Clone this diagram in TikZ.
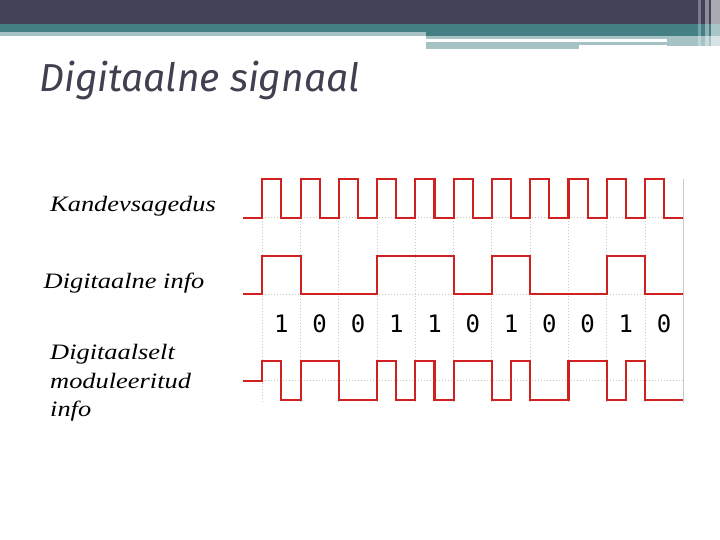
\documentclass[tikz,border=0pt]{standalone}
\usepackage{fontspec}
\newfontfamily\titlefont{Fira Sans}
\newfontfamily\labfont[FakeStretch=1.2]{Liberation Serif}
\newfontfamily\digfont{DejaVu Sans Mono}
\definecolor{bardark}{RGB}{66,66,88}
\definecolor{barteal}{RGB}{67,127,131}
\definecolor{barlight}{RGB}{167,194,197}
\definecolor{sigred}{RGB}{208,32,32}
\definecolor{titlegrey}{RGB}{64,64,80}
\definecolor{gridgrey}{RGB}{200,200,200}
\tikzset{
  sig/.style={draw=sigred, line width=2.1pt, line join=miter},
  gridline/.style={draw=gridgrey, line width=0.9pt, dash pattern=on 1pt off 2pt},
  labeltext/.style={inner sep=0pt, anchor=base west, font=\labfont\itshape\fontsize{22}{26}\selectfont},
  digit/.style={inner sep=0pt, anchor=base, font=\digfont\fontsize{24}{28}\selectfont},
}
\begin{document}
\begin{tikzpicture}[x=1pt,y=-1pt]
\useasboundingbox (0,0) rectangle (720,540);
\fill[white] (0,0) rectangle (720,540);
% top bar
\fill[bardark] (0,0) rectangle (720,24);
\fill[barteal] (0,24) rectangle (720,32);
\fill[barlight] (0,32) rectangle (426,36);
\fill[barteal] (426,32) rectangle (720,36);
\fill[barlight] (426,36) rectangle (667,39);
\fill[barlight] (426,42) rectangle (579,49);
\fill[barlight] (579,42) rectangle (667,45);
\fill[barlight] (667,36) rectangle (720,46);
\fill[white, opacity=0.30] (698,0) rectangle (701,48);
\fill[white, opacity=0.40] (705,0) rectangle (709,48);
\fill[white, opacity=0.55] (711,0) rectangle (720,48);
% title
\node[inner sep=0pt, anchor=base west, text=titlegrey, font=\titlefont\itshape\fontsize{39}{45}\selectfont] (title) at (39,91.7) {Digitaalne signaal};
% labels
\node[labeltext] (lab1) at (50,211.7) {Kandevsagedus};
\node[labeltext] (lab2) at (43.5,288.3) {Digitaalne info};
\node[labeltext] (lab3a) at (50,359.5) {Digitaalselt};
\node[labeltext] (lab3b) at (50,388) {moduleeritud};
\node[labeltext] (lab3c) at (50,416.5) {info};
% grid
\foreach \k in {0,...,10} {
  \draw[gridline] ({262.3+\k*38.27},217.7) -- ({262.3+\k*38.27},402);
}
\draw[gridline] (262.3,217.7) -- (683.3,217.7);
\draw[gridline] (262.3,294.3) -- (683.3,294.3);
\draw[gridline] (262.3,380.7) -- (683.3,380.7);
\draw[draw=gridgrey, line width=1.4pt] (683.3,179) -- (683.3,403);
% carrier
\draw[sig] (243,217.7) foreach \k in {0,...,10} {
  -- ({262.3+\k*38.27},217.7) -- ({262.3+\k*38.27},179.3)
  -- ({262.3+(\k+0.5)*38.27},179.3) -- ({262.3+(\k+0.5)*38.27},217.7) }
  -- (683.3,217.7);
% digital info
\draw[sig] (243,294.3) -- (262.3,294.3) -- (262.3,256) -- (300.57,256) -- (300.57,294.3)
  -- (377.11,294.3) -- (377.11,256) -- (453.65,256) -- (453.65,294.3)
  -- (491.92,294.3) -- (491.92,256) -- (530.19,256) -- (530.19,294.3)
  -- (606.73,294.3) -- (606.73,256) -- (645.0,256) -- (645.0,294.3) -- (683.3,294.3);
% bits
\foreach \b [count=\i from 0] in {1,0,0,1,1,0,1,0,0,1,0} {
  \node[digit] (d\i) at ({281.44+\i*38.27},332.3) {\b};
}
% modulated
\draw[sig] (243,380.7) -- (262.3,380.7) -- (262.3,361) -- (281.44,361) -- (281.44,400)
  -- (300.57,400) -- (300.57,361) -- (338.84,361) -- (338.84,400)
  -- (377.11,400) -- (377.11,361) -- (396.25,361) -- (396.25,400)
  -- (415.38,400) -- (415.38,361) -- (434.52,361) -- (434.52,400)
  -- (453.65,400) -- (453.65,361) -- (491.92,361) -- (491.92,400)
  -- (511.06,400) -- (511.06,361) -- (530.19,361) -- (530.19,400)
  -- (568.46,400) -- (568.46,361) -- (606.73,361) -- (606.73,400)
  -- (625.87,400) -- (625.87,361) -- (645.0,361) -- (645.0,400) -- (683.3,400);
\end{tikzpicture}
\end{document}
